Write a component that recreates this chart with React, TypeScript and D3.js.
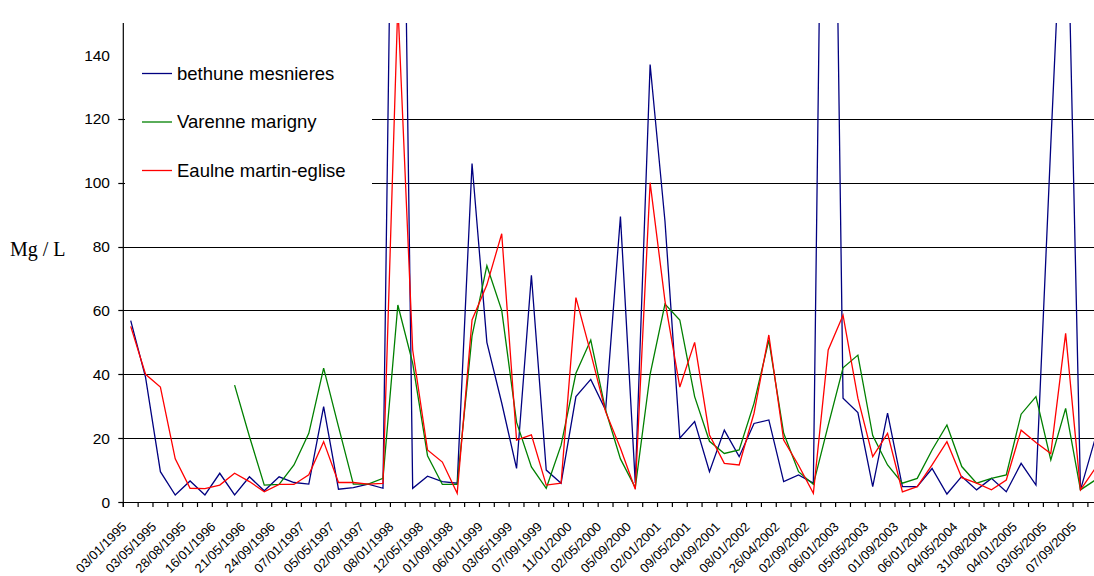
import React from "react";
import * as d3 from "d3";

// ---- data ----
const tickLabels = [
  "03/01/1995", "03/05/1995", "28/08/1995", "16/01/1996", "21/05/1996", "24/09/1996",
  "07/01/1997", "05/05/1997", "02/09/1997", "08/01/1998", "12/05/1998", "01/09/1998",
  "06/01/1999", "03/05/1999", "07/09/1999", "11/01/2000", "02/05/2000", "05/09/2000",
  "02/01/2001", "09/05/2001", "04/09/2001", "08/01/2002", "26/04/2002", "02/09/2002",
  "06/01/2003", "05/05/2003", "01/09/2003", "06/01/2004", "04/05/2004", "31/08/2004",
  "04/01/2005", "03/05/2005", "07/09/2005",
];
const labelEvery = 2; // one date label every two sampling dates
const nSamples = 66;

const bethune: (number | null)[] = [
  56.8, 39, 9.5, 2.2, 6.6, 2.2, 9.0, 2.2, 7.9, 3.5,
  7.9, 6.1, 5.6, 29.9, 4.0, 4.5, 5.6, 4.3, 350, 4.3,
  8.1, 6.4, 5.9, 106, 50, 31, 10.5, 71, 10, 5.9,
  33, 38.4, 28.8, 89.4, 6, 137, 88, 20, 25.2, 9.5,
  22.5, 14.2, 24.6, 25.7, 6.4, 8.5, 5.9, 375, 32.5, 28,
  4.8, 27.8, 4.8, 4.8, 10.5, 2.5, 8, 3.8, 7.4, 3.2,
  12.1, 5.3, 112, 214, 3.8, 20,
];
const varenne: (number | null)[] = [
  null, null, null, null, null, null, null, 36.6, 20.5, 5.3,
  5.5, 11.6, 21.5, 41.9, 23.6, 5.6, 5.6, 7.4, 61.7, 43.5,
  14.5, 5.5, 5.5, 52, 74, 60, 25, 11, 4.3, 17.8,
  40.3, 50.7, 28.8, 13.5, 4.5, 40, 62, 57, 33, 19,
  15.2, 16.3, 30.9, 50.7, 21.5, 9.5, 5.5, 24, 42, 46,
  20.8, 11.6, 5.9, 7.4, 16.3, 24.1, 11.1, 5.9, 7.4, 8.5,
  27.5, 33, 13.2, 29.3, 3.8, 6.9,
];
const eaulne: (number | null)[] = [
  55, 40, 36, 13.5, 4.3, 4.2, 5.3, 9.0, 6.4, 3.2,
  5.5, 5.5, 8.5, 18.9, 6.1, 6.1, 5.6, 5.8, 156, 47.6,
  16.3, 12.5, 2.7, 57, 68, 84, 19.4, 21, 5.3, 5.9,
  64, 46.6, 28.3, 16.8, 4, 100, 63, 36, 50, 21,
  12.1, 11.6, 27.8, 52.3, 19.4, 11.5, 2.7, 47.6, 58.5, 32.5,
  14.2, 21.5, 3.2, 4.8, 11.6, 18.9, 7.6, 5.9, 3.8, 6.9,
  22.5, 18.6, 15.2, 52.8, 3.8, 10.6,
];
const seriesNames = ["bethune mesnieres", "Varenne marigny", "Eaulne martin-eglise"];
const seriesColors = ["#000080", "#008000", "#ff0000"];
const yTickValues = [0, 20, 40, 60, 80, 100, 120, 140];
const gridValues = [20, 40, 60, 80, 100, 120];
const yAxisTitle = "Mg / L";

// ---- layout ----
const W = 1094;
const H = 576;
const left = 123.3;
const step = 14.84;
const top = 23;
const bottom = 502;
const right = left + step * nSamples;
const sans = "'Liberation Sans', Arial, sans-serif";

export default function App() {
  const x = d3.scaleBand<number>().domain(d3.range(nSamples)).range([left, right]).padding(0);
  const cx = (i: number) => (x(i) as number) + x.bandwidth() / 2;
  const y = d3.scaleLinear().domain([0, 150]).range([bottom, top]);

  const line = d3
    .line<number | null>()
    .defined((d) => d != null)
    .x((_, i) => cx(i))
    .y((d) => y(d as number));

  const series = [bethune, varenne, eaulne];
  const boundaries = d3.range(nSamples + 1).map((i) => left + i * x.bandwidth());

  return (
    <svg width={W} height={H} style={{ position: "absolute", left: 0, top: 0, background: "#fff" }}>
      <defs>
        <clipPath id="plot">
          <rect x={left} y={top} width={right - left} height={bottom - top + 4} />
        </clipPath>
      </defs>
      <rect x={0} y={0} width={W} height={H} fill="#fff" />
      {/* gridlines */}
      {gridValues.map((v) => (
        <line key={v} x1={left} x2={right} y1={Math.round(y(v)) + 0.5} y2={Math.round(y(v)) + 0.5} stroke="#000" strokeWidth={1.2} />
      ))}
      {/* series */}
      <g clipPath="url(#plot)">
        {series.map((s, i) => (
          <path key={i} d={line(s) || ""} fill="none" stroke={seriesColors[i]} strokeWidth={1.3} strokeLinejoin="miter" />
        ))}
      </g>
      {/* legend */}
      <rect x={125} y={34} width={247} height={166} fill="#fff" />
      {seriesNames.map((name, i) => {
        const ly = 73.5 + i * 48.5;
        return (
          <g key={name}>
            <line x1={142} x2={172} y1={ly} y2={ly} stroke={seriesColors[i]} strokeWidth={1.3} />
            <text x={177} y={ly + 6.2} fontFamily={sans} fontSize={18.5} fill="#000">
              {name}
            </text>
          </g>
        );
      })}
      {/* y axis */}
      <line x1={left} x2={left} y1={top} y2={bottom + 5} stroke="#000" strokeWidth={1.2} />
      {yTickValues.map((v) => (
        <g key={v}>
          {v <= 120 && <line x1={left - 5} x2={left} y1={Math.round(y(v)) + 0.5} y2={Math.round(y(v)) + 0.5} stroke="#000" strokeWidth={1.2} />}
          <text x={110} y={y(v)} dy="0.36em" textAnchor="end" fontFamily={sans} fontSize={15.5} fill="#000">
            {v}
          </text>
        </g>
      ))}
      <text x={10} y={256} fontFamily="'Liberation Serif', 'Times New Roman', serif" fontSize={20} fill="#000">
        {yAxisTitle}
      </text>
      {/* x axis */}
      <line x1={left} x2={right} y1={bottom + 0.5} y2={bottom + 0.5} stroke="#000" strokeWidth={1.2} />
      {boundaries.map((b, i) => (
        <line key={i} x1={b} x2={b} y1={bottom} y2={bottom + 5} stroke="#000" strokeWidth={1.2} />
      ))}
      {tickLabels.map((t, j) => {
        const k = j * labelEvery;
        return (
          <text
            key={t + j}
            transform={`translate(${cx(k) - 10},${521}) rotate(-45)`}
            dy="0.72em"
            textAnchor="end"
            fontFamily={sans}
            fontSize={13}
            fill="#000"
          >
            {t}
          </text>
        );
      })}
    </svg>
  );
}
